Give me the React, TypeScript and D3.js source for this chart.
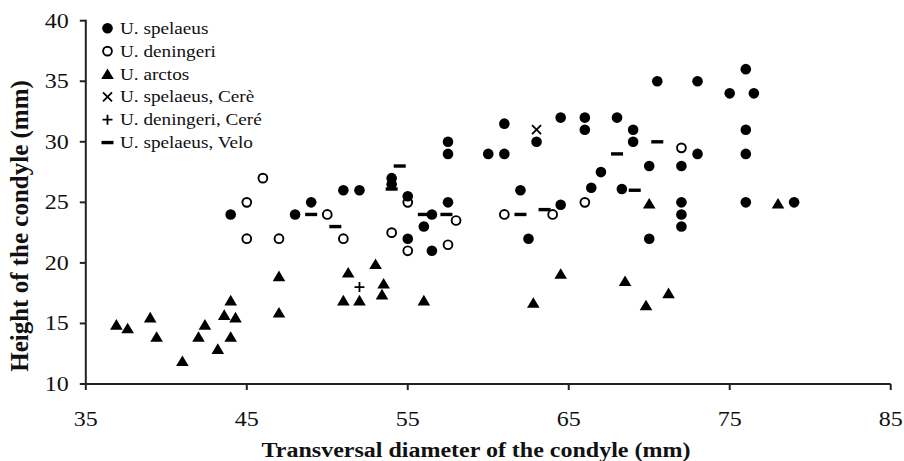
import React from "react";
import * as d3 from "d3";

type P = [number, number];

const spelaeus: P[] = [
  [44, 24], [48, 24], [49, 25], [51, 26], [52, 26], [54, 27], [54, 26.5], [55, 25.5], [55, 22],
  [56, 23], [56.5, 24], [56.5, 21], [57.5, 25], [57.5, 29], [57.5, 30], [60, 29], [61, 29],
  [61, 31.5], [62, 26], [62.5, 22], [63, 30], [64.5, 32], [64.5, 24.8], [66, 32], [66, 31],
  [66.4, 26.2], [67, 27.5], [68, 32], [68.3, 26.1], [69, 31], [69, 30], [70, 28], [70, 22],
  [70.5, 35], [72, 28], [72, 25], [72, 24], [72, 23], [73, 35], [73, 29], [75, 34], [76, 36],
  [76, 31], [76, 29], [76, 25], [76.5, 34], [79, 25],
];
const deningeri: P[] = [
  [45, 25], [45, 22], [46, 27], [47, 22], [50, 24], [51, 22], [54, 22.5], [55, 25], [55, 21],
  [57.5, 21.5], [58, 23.5], [61, 24], [64, 24], [66, 25], [72, 29.5],
];
const arctos: P[] = [
  [36.9, 14.9], [37.6, 14.6], [39, 15.5], [39.4, 13.9], [41, 11.9], [42, 13.9], [42.4, 14.9],
  [43.2, 12.9], [43.6, 15.7], [44, 16.9], [44, 13.9], [44.3, 15.5], [47, 18.9], [47, 15.9],
  [51, 16.9], [51.3, 19.2], [52, 16.9], [53, 19.9], [53.5, 18.3], [53.4, 17.4], [56, 16.9],
  [62.8, 16.7], [64.5, 19.1], [68.5, 18.5], [69.8, 16.5], [71.2, 17.5], [70, 24.9], [78, 24.9],
];
const spelaeusCere: P[] = [[63, 31]];
const deningeriCere: P[] = [[52, 18]];
const spelaeusVelo: P[] = [
  [49, 24], [50.5, 23], [54.5, 28], [54, 26.1], [56, 24], [57.4, 24], [62, 24], [63.5, 24.4],
  [68, 29], [69.1, 26], [70.5, 30],
];

const xTicks = [35, 45, 55, 65, 75, 85];
const yTicks = [10, 15, 20, 25, 30, 35, 40];
const legendLabels = [
  "U. spelaeus",
  "U. deningeri",
  "U. arctos",
  "U. spelaeus, Cerè",
  "U. deningeri, Ceré",
  "U. spelaeus, Velo",
];

const FONT = "'Liberation Serif', 'Times New Roman', serif";
const SX = 1.2;

type Kind = "filled" | "open" | "tri" | "x" | "plus" | "dash";

function Marker({ kind, x, y }: { kind: Kind; x: number; y: number }) {
  switch (kind) {
    case "filled":
      return <circle cx={x} cy={y} r={5.3} fill="#000" />;
    case "open":
      return <circle cx={x} cy={y} r={4.4} fill="#fff" stroke="#000" strokeWidth={1.9} />;
    case "tri":
      return (
        <path
          d={`M${x},${y - 5.6} L${x + 6.3},${y + 5} L${x - 6.3},${y + 5} Z`}
          fill="#000"
        />
      );
    case "x":
      return (
        <path
          d={`M${x - 4.5},${y - 4.5} L${x + 4.5},${y + 4.5} M${x + 4.5},${y - 4.5} L${x - 4.5},${y + 4.5}`}
          stroke="#000"
          strokeWidth={1.8}
        />
      );
    case "plus":
      return (
        <path
          d={`M${x - 5},${y} L${x + 5},${y} M${x},${y - 5} L${x},${y + 5}`}
          stroke="#000"
          strokeWidth={1.8}
        />
      );
    case "dash":
      return <rect x={x - 6} y={y - 1.7} width={12} height={3.4} fill="#000" />;
  }
}

export default function App() {
  const W = 904;
  const H = 461;
  const x = d3.scaleLinear().domain([35, 85]).range([85.8, 890.7]);
  const y = d3.scaleLinear().domain([10, 40]).range([384, 20.7]);

  const series: { kind: Kind; data: P[] }[] = [
    { kind: "open", data: deningeri },
    { kind: "tri", data: arctos },
    { kind: "filled", data: spelaeus },
    { kind: "x", data: spelaeusCere },
    { kind: "plus", data: deningeriCere },
    { kind: "dash", data: spelaeusVelo },
  ];
  const legendKinds: Kind[] = ["filled", "open", "tri", "x", "plus", "dash"];

  const axisColor = "#222";
  const x0 = x(35);
  const y0 = y(10);

  return (
    <div style={{ position: "absolute", left: 0, top: 0 }}>
      <svg width={W} height={H} style={{ display: "block", background: "#fff" }}>
        {/* axes */}
        <line x1={x0} y1={y(40) - 1} x2={x0} y2={y0} stroke={axisColor} strokeWidth={2} />
        <line x1={x0} y1={y0} x2={x(85)} y2={y0} stroke={axisColor} strokeWidth={2} />
        {yTicks.map((t) => (
          <g key={"yt" + t}>
            <line x1={x0 - 6} x2={x0} y1={y(t)} y2={y(t)} stroke={axisColor} strokeWidth={2} />
            <text
              transform={`translate(${x0 - 17},${y(t) + 7}) scale(${SX},1)`}
              textAnchor="end"
              fontFamily={FONT}
              fontSize={20}
              fill="#111"
            >
              {t}
            </text>
          </g>
        ))}
        {xTicks.map((t) => (
          <g key={"xt" + t}>
            <line x1={x(t)} x2={x(t)} y1={y0} y2={y0 + 6} stroke={axisColor} strokeWidth={2} />
            <text
              transform={`translate(${x(t)},${426}) scale(${SX},1)`}
              textAnchor="middle"
              fontFamily={FONT}
              fontSize={20}
              fill="#111"
            >
              {t}
            </text>
          </g>
        ))}
        {/* axis titles */}
        <text
          transform={`translate(${476},${457}) scale(${SX},1)`}
          textAnchor="middle"
          fontFamily={FONT}
          fontSize={20}
          fontWeight="bold"
          fill="#111"
        >
          Transversal diameter of the condyle (mm)
        </text>
        <text
          transform={`translate(${28},${226}) rotate(-90)`}
          textAnchor="middle"
          fontFamily={FONT}
          fontSize={25}
          fontWeight="bold"
          fill="#111"
        >
          Height of the condyle (mm)
        </text>
        {/* points */}
        {series.map((s, i) => (
          <g key={"s" + i}>
            {s.data.map((d, j) => (
              <Marker key={j} kind={s.kind} x={x(d[0])} y={y(d[1])} />
            ))}
          </g>
        ))}
        {/* legend */}
        {legendLabels.map((lab, i) => {
          const cy = 28.3 + i * 22.85;
          return (
            <g key={"lg" + i}>
              <Marker kind={legendKinds[i]} x={107.5} y={cy} />
              <text
                transform={`translate(${120},${cy + 5.5}) scale(${SX},1)`}
                fontFamily={FONT}
                fontSize={16}
                fill="#111"
              >
                {lab}
              </text>
            </g>
          );
        })}
      </svg>
    </div>
  );
}
